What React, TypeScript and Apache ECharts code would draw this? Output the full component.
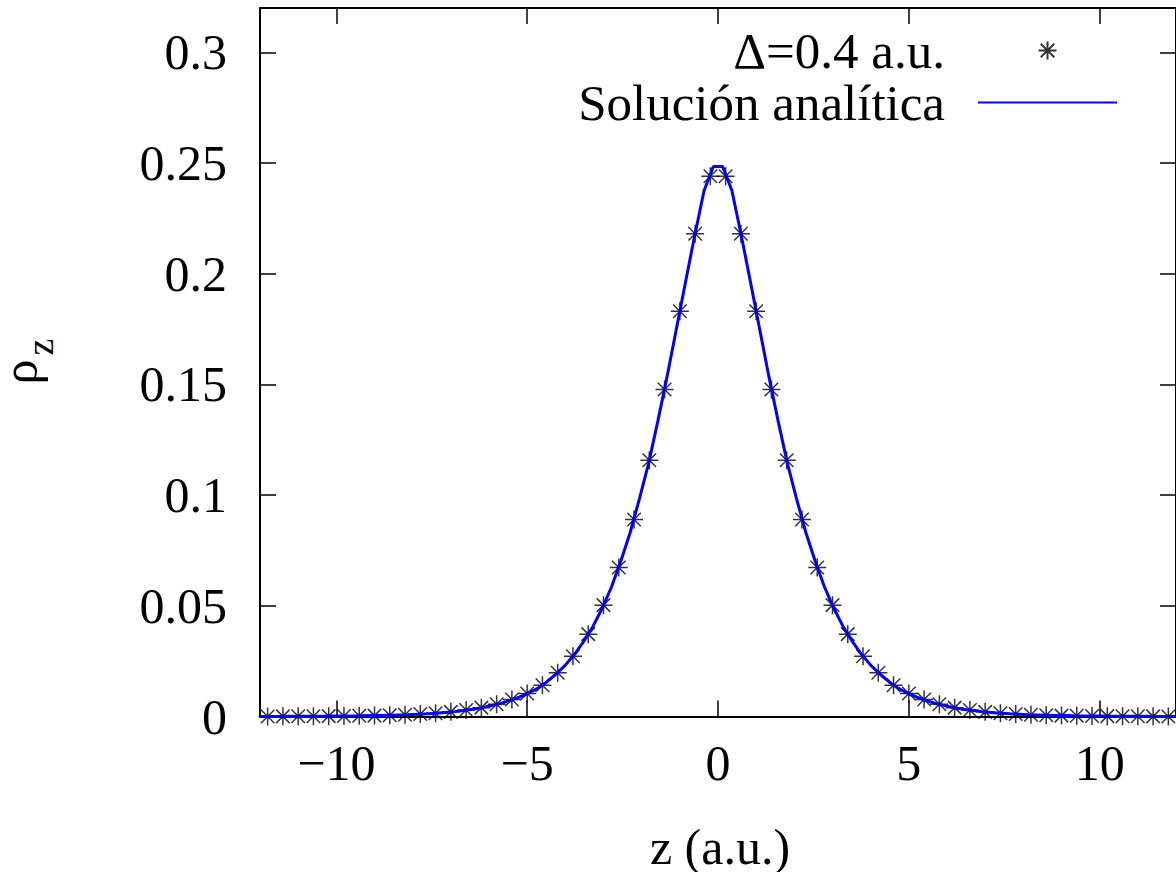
import React, { useEffect, useRef } from "react";
import * as echarts from "echarts";

const xTicks = [-10, -5, 0, 5, 10];
const yTicks = [0, 0.05, 0.1, 0.15, 0.2, 0.25, 0.3];

const seriesNames = ["Δ=0.4 a.u.", "Solución analítica"];

const asteriskZ = [
  -11.8, -11.4, -11.0, -10.6, -10.2, -9.8, -9.4, -9.0, -8.6, -8.2,
  -7.8, -7.4, -7.0, -6.6, -6.2, -5.8, -5.4, -5.0, -4.6, -4.2,
  -3.8, -3.4, -3.0, -2.6, -2.2, -1.8, -1.4, -1.0, -0.6, -0.2,
  0.2, 0.6, 1.0, 1.4, 1.8, 2.2, 2.6, 3.0, 3.4, 3.8,
  4.2, 4.6, 5.0, 5.4, 5.8, 6.2, 6.6, 7.0, 7.4, 7.8,
  8.2, 8.6, 9.0, 9.4, 9.8, 10.2, 10.6, 11.0, 11.4, 11.8,
];
const asteriskRho = [
  0.00004, 0.00006, 0.00009, 0.00012, 0.00016, 0.0002, 0.0003, 0.0004, 0.0006, 0.0008,
  0.0011, 0.0015, 0.0021, 0.0029, 0.004, 0.0055, 0.0077, 0.0104, 0.0141, 0.0198,
  0.0272, 0.0372, 0.0503, 0.0673, 0.089, 0.1157, 0.1477, 0.183, 0.218, 0.244,
  0.244, 0.218, 0.183, 0.1477, 0.1157, 0.089, 0.0673, 0.0503, 0.0372, 0.0272,
  0.0198, 0.0141, 0.0104, 0.0077, 0.0055, 0.004, 0.0029, 0.0021, 0.0015, 0.0011,
  0.0008, 0.0006, 0.0004, 0.0003, 0.0002, 0.00016, 0.00012, 0.00009, 0.00006, 0.00004,
];

const lineZ = [
  -12.0, -11.758, -11.515, -11.273, -11.03, -10.788, -10.545, -10.303, -10.061, -9.818,
  -9.576, -9.333, -9.091, -8.848, -8.606, -8.364, -8.121, -7.879, -7.636, -7.394,
  -7.152, -6.909, -6.667, -6.424, -6.182, -5.939, -5.697, -5.455, -5.212, -4.97,
  -4.727, -4.485, -4.242, -4.0, -3.758, -3.515, -3.273, -3.03, -2.788, -2.545,
  -2.303, -2.061, -1.818, -1.576, -1.333, -1.091, -0.848, -0.606, -0.364, -0.121,
  0.121, 0.364, 0.606, 0.848, 1.091, 1.333, 1.576, 1.818, 2.061, 2.303,
  2.545, 2.788, 3.03, 3.273, 3.515, 3.758, 4.0, 4.242, 4.485, 4.727,
  4.97, 5.212, 5.455, 5.697, 5.939, 6.182, 6.424, 6.667, 6.909, 7.152,
  7.394, 7.636, 7.879, 8.121, 8.364, 8.606, 8.848, 9.091, 9.333, 9.576,
  9.818, 10.061, 10.303, 10.545, 10.788, 11.03, 11.273, 11.515, 11.758, 12.0,
];
const lineRho = [
  0.00003, 0.00004, 0.00005, 0.00006, 0.00007, 0.00009, 0.00011, 0.00014, 0.00017, 0.0002,
  0.00025, 0.0003, 0.0004, 0.0005, 0.0006, 0.0007, 0.0008, 0.001, 0.0012, 0.0015,
  0.0018, 0.0022, 0.0027, 0.0033, 0.004, 0.0049, 0.0059, 0.0072, 0.0087, 0.0105,
  0.0127, 0.0156, 0.0192, 0.0232, 0.0281, 0.034, 0.0408, 0.049, 0.0586, 0.0702,
  0.083, 0.0982, 0.1143, 0.1334, 0.1536, 0.175, 0.1965, 0.2176, 0.2376, 0.2484,
  0.2484, 0.2376, 0.2176, 0.1965, 0.175, 0.1536, 0.1334, 0.1143, 0.0982, 0.083,
  0.0702, 0.0586, 0.049, 0.0408, 0.034, 0.0281, 0.0232, 0.0192, 0.0156, 0.0127,
  0.0105, 0.0087, 0.0072, 0.0059, 0.0049, 0.004, 0.0033, 0.0027, 0.0022, 0.0018,
  0.0015, 0.0012, 0.001, 0.0008, 0.0007, 0.0006, 0.0005, 0.0004, 0.0003, 0.00025,
  0.0002, 0.00017, 0.00014, 0.00011, 0.00009, 0.00007, 0.00006, 0.00005, 0.00004, 0.00003,
];

const FONT = "Liberation Serif";
const ASTERISK = "path://M0,-10L0,10M-10,0L10,0M-7.5,-7.5L7.5,7.5M-7.5,7.5L7.5,-7.5";
const LEGEND_LINE = "path://M0,0L70,0L70,1L0,1Z";

const fmtX = (v: number) => (v < 0 ? "\u2212" + Math.abs(v) : String(v));

export default function App() {
  const ref = useRef<HTMLDivElement>(null);
  useEffect(() => {
    if (!ref.current) return;
    const chart = echarts.init(ref.current, undefined, { renderer: "svg" });
    const axisLine = { show: true, onZero: false, lineStyle: { color: "#000", width: 2 } };
    const tick = (vals: number[]) => ({
      show: true,
      inside: true,
      length: 16,
      customValues: vals,
      lineStyle: { color: "#000", width: 1.5 },
    });
    chart.setOption({
      animation: false,
      backgroundColor: "#fff",
      grid: { left: 260, top: 8, width: 920, height: 708.5, containLabel: false },
      legend: {
        orient: "vertical",
        align: "right",
        right: 54,
        top: 20,
        itemGap: 1,
        itemWidth: 139,
        itemHeight: 18,
        selectedMode: false,
        data: [{ name: seriesNames[0] }, { name: seriesNames[1], icon: LEGEND_LINE }],
        textStyle: {
          fontFamily: FONT,
          fontSize: 51,
          color: "#000",
          lineHeight: 50,
          padding: [0, 28, 0, 0],
        },
      },
      xAxis: [
        {
          type: "value",
          min: -12,
          max: 12,
          position: "bottom",
          axisLine,
          axisTick: tick(xTicks),
          splitLine: { show: false },
          axisLabel: {
            customValues: xTicks,
            formatter: fmtX,
            fontFamily: FONT,
            fontSize: 50,
            color: "#000",
            margin: 21,
          },
        },
        {
          type: "value",
          min: -12,
          max: 12,
          position: "top",
          axisLine,
          axisTick: tick(xTicks),
          splitLine: { show: false },
          axisLabel: { show: false },
        },
      ],
      yAxis: [
        {
          type: "value",
          min: 0,
          max: 0.32,
          position: "left",
          axisLine,
          axisTick: tick(yTicks),
          splitLine: { show: false },
          axisLabel: {
            customValues: yTicks,
            formatter: (v: number) => String(v),
            fontFamily: FONT,
            fontSize: 50,
            color: "#000",
            margin: 33,
          },
        },
        {
          type: "value",
          min: 0,
          max: 0.32,
          position: "right",
          axisLine,
          axisTick: tick(yTicks),
          splitLine: { show: false },
          axisLabel: { show: false },
        },
      ],
      series: [
        {
          name: seriesNames[0],
          type: "scatter",
          symbol: ASTERISK,
          symbolSize: 18,
          itemStyle: { color: "#000", borderColor: "#000", borderWidth: 1.5 },
          emphasis: { disabled: true },
          data: asteriskZ.map((z, i) => [z, asteriskRho[i]]),
        },
        {
          name: seriesNames[1],
          type: "line",
          symbol: "none",
          showSymbol: false,
          lineStyle: { color: "#0000ff", width: 3 },
          itemStyle: { color: "#0000ff" },
          emphasis: { disabled: true },
          data: lineZ.map((z, i) => [z, lineRho[i]]),
        },
      ],
      graphic: [
        {
          type: "text",
          x: 720,
          y: 847,
          style: {
            text: "z (a.u.)",
            font: `50px "${FONT}"`,
            lineHeight: 40,
            fill: "#000",
            align: "center",
            verticalAlign: "middle",
          },
        },
        {
          type: "text",
          x: 20,
          y: 372,
          rotation: Math.PI / 2,
          style: {
            text: "ρ",
            font: `50px "${FONT}"`,
            lineHeight: 30,
            fill: "#000",
            align: "center",
            verticalAlign: "middle",
          },
        },
        {
          type: "text",
          x: 40,
          y: 347,
          rotation: Math.PI / 2,
          style: {
            text: "z",
            font: `38px "${FONT}"`,
            lineHeight: 30,
            fill: "#000",
            align: "center",
            verticalAlign: "middle",
          },
        },
      ],
    });
    return () => chart.dispose();
  }, []);
  return (
    <div
      ref={ref}
      style={{ position: "fixed", left: 0, top: 0, width: 1176, height: 872, background: "#fff" }}
    />
  );
}
